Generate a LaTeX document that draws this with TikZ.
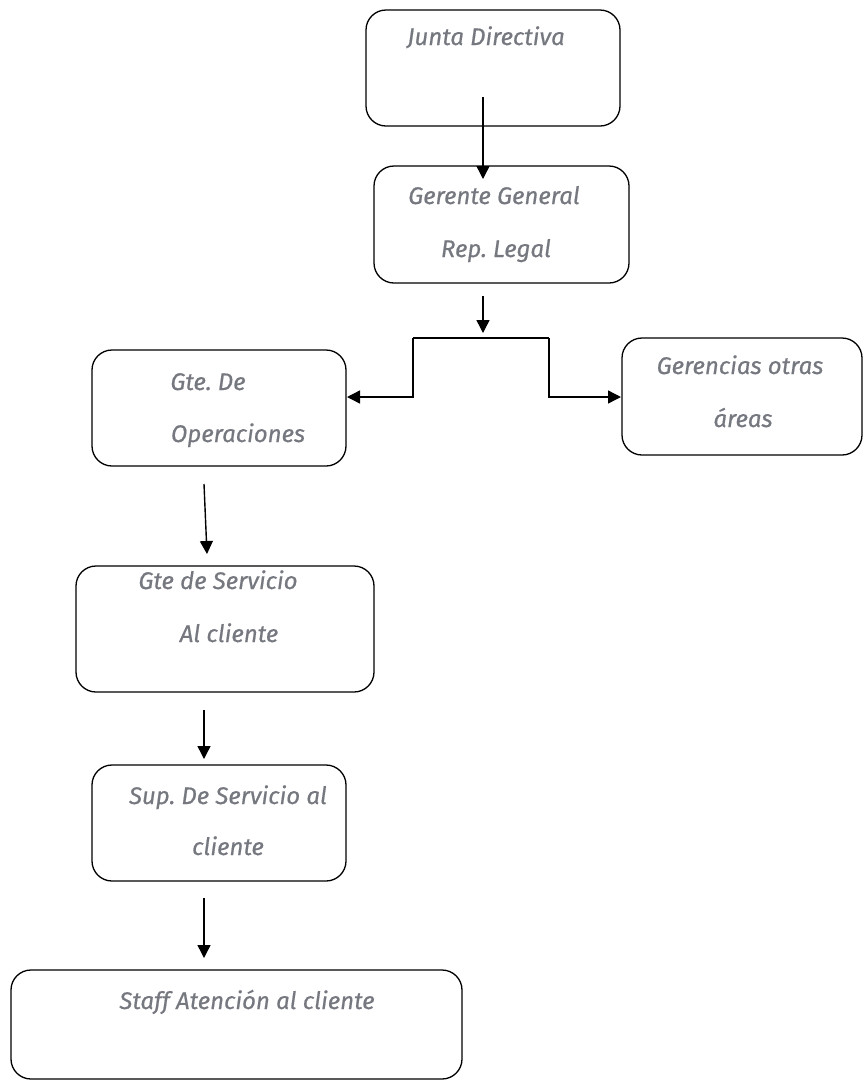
\documentclass[tikz,border=0pt]{standalone}
\usepackage{fontspec}
\setmainfont{Fira Sans}[ItalicFeatures={FakeBold=0.6}]
\frenchspacing
\usetikzlibrary{arrows.meta}
\definecolor{txtgray}{HTML}{767880}
\tikzset{
  box/.style={draw=black, line width=1.3pt, rounded corners=20pt, inner sep=0pt},
  lbl/.style={text=txtgray, font=\fontsize{24}{26}\selectfont\itshape, inner sep=0pt, anchor=base},
  conn/.style={draw=black, line width=1.4pt, -{Triangle[width=13pt,length=13pt]}},
  plain/.style={draw=black, line width=1.4pt}
}
\begin{document}
\begin{tikzpicture}[x=1pt,y=-1pt]
\useasboundingbox (0,0) rectangle (864,1080);
% boxes
\node[box, minimum width=254pt, minimum height=116pt] (jd) at (493,68) {};
\node[box, minimum width=255pt, minimum height=117pt] (gg) at (501.5,224.5) {};
\node[box, minimum width=254pt, minimum height=116pt] (go) at (219,408) {};
\node[box, minimum width=240pt, minimum height=117pt] (oa) at (742,396.5) {};
\node[box, minimum width=298pt, minimum height=126pt] (gs) at (225,629) {};
\node[box, minimum width=254pt, minimum height=116pt] (sp) at (219,823) {};
\node[box, minimum width=451pt, minimum height=109pt] (st) at (236.5,1024.5) {};
% labels
\node[lbl] (t1) at (486,45) {Junta Directiva};
\node[lbl] (t2a) at (494,204) {Gerente General};
\node[lbl] (t2b) at (496,257) {Rep. Legal};
\node[lbl] (t3a) at (208,390) {Gte. De};
\node[lbl] (t3b) at (238,442) {Operaciones};
\node[lbl] (t4a) at (740,374) {Gerencias otras};
\node[lbl] (t4b) at (743,427) {áreas};
\node[lbl] (t5a) at (218,589) {Gte de Servicio};
\node[lbl] (t5b) at (229,642) {Al cliente};
\node[lbl] (t6a) at (228,804) {Sup. De Servicio al};
\node[lbl] (t6b) at (228,855) {cliente};
\node[lbl] (t7) at (247,1009) {Staff Atención al cliente};
% connector coordinates
\coordinate (c1) at (483,97);
\coordinate (c1e) at (483,179);
\coordinate (c2) at (483,296);
\coordinate (c2e) at (483,333);
\coordinate (bl) at (413,338);
\coordinate (br) at (549,338);
\coordinate (ble) at (347,397);
\coordinate (bre) at (621,397);
\coordinate (c3) at (204,484);
\coordinate (c3e) at (207,554);
\coordinate (c4) at (204,710);
\coordinate (c4e) at (204,759);
\coordinate (c5) at (204,898);
\coordinate (c5e) at (204,958);
% connectors
\draw[conn] (c1) -- (c1e);
\draw[conn] (c2) -- (c2e);
\draw[plain] (bl) -- (br);
\draw[conn] (bl) |- (ble);
\draw[conn] (br) |- (bre);
\draw[conn] (c3) -- (c3e);
\draw[conn] (c4) -- (c4e);
\draw[conn] (c5) -- (c5e);
\end{tikzpicture}
\end{document}
